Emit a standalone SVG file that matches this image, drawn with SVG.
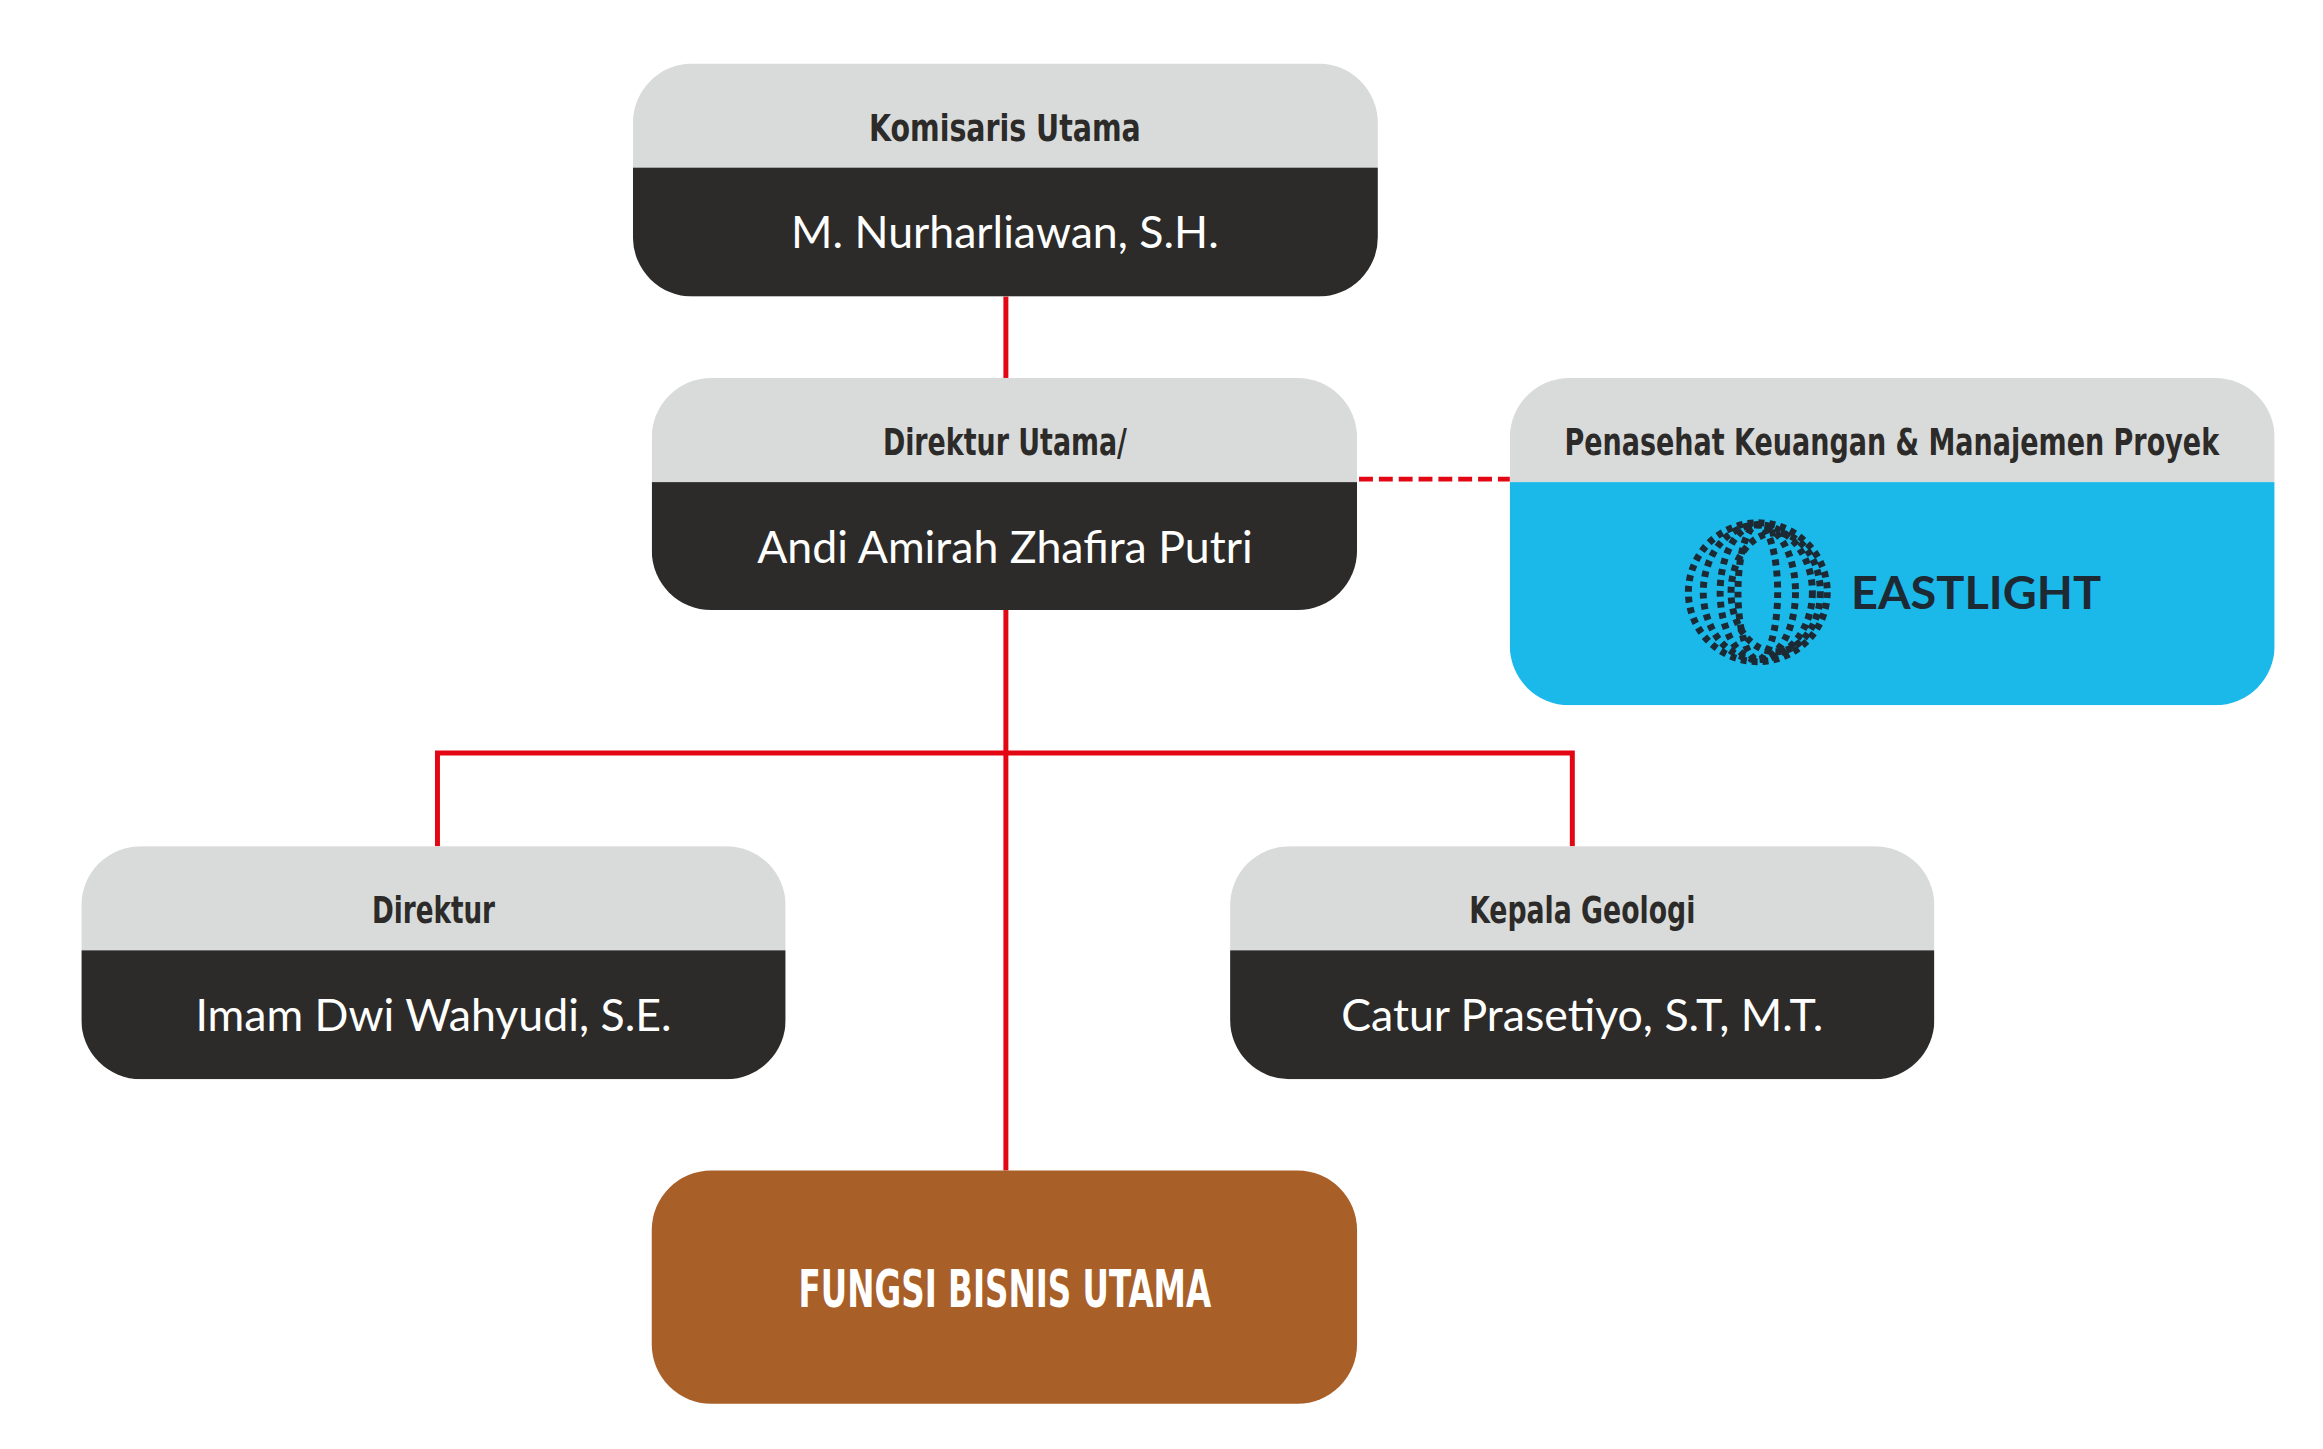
<svg xmlns="http://www.w3.org/2000/svg" width="2323" height="1449" viewBox="0 0 2323 1449">
<style>
.hd{fill:#d9dbda}.bd{fill:#2c2b29}
.ht{font-family:"DejaVu Sans Condensed","DejaVu Sans",sans-serif;font-weight:bold;font-size:38px;fill:#2c2b29;text-anchor:middle}
.nt{font-family:Lato,"Open Sans",sans-serif;font-size:45px;fill:#fff;text-anchor:middle}
.ln{stroke:#e30613;stroke-width:5;fill:none}
</style>
<defs>
<clipPath id="c1"><rect x="638" y="64" width="751" height="235" rx="60"/></clipPath>
<clipPath id="c2"><rect x="657" y="381" width="711" height="234" rx="60"/></clipPath>
<clipPath id="c3"><rect x="1522" y="381" width="771" height="330" rx="60"/></clipPath>
<clipPath id="c4"><rect x="82" y="853" width="710" height="235" rx="60"/></clipPath>
<clipPath id="c5"><rect x="1240" y="853" width="710" height="235" rx="60"/></clipPath>
</defs>
<g transform="scale(0.992)">
<g id="connectors">
<line class="ln" x1="1014" y1="299" x2="1014" y2="381"/>
<line class="ln" x1="1014" y1="615" x2="1014" y2="1180"/>
<polyline class="ln" points="441,853 441,759 1585,759 1585,853"/>
<line class="ln" x1="1370" y1="483" x2="1522" y2="483" stroke-dasharray="14,6"/>
</g>
<g id="komisaris" clip-path="url(#c1)">
<rect class="hd" x="638" y="64" width="751" height="105"/><rect class="bd" x="638" y="169" width="751" height="130"/>
<text class="ht" x="1013" y="142" textLength="274" lengthAdjust="spacingAndGlyphs">Komisaris Utama</text>
<text class="nt" x="1013" y="250">M. Nurharliawan, S.H.</text>
</g>
<g id="dirut" clip-path="url(#c2)">
<rect class="hd" x="657" y="381" width="711" height="105"/><rect class="bd" x="657" y="486" width="711" height="129"/>
<text class="ht" x="1013" y="459" textLength="246" lengthAdjust="spacingAndGlyphs">Direktur Utama/</text>
<text class="nt" x="1013" y="568">Andi Amirah Zhafira Putri</text>
</g>
<g id="penasehat" clip-path="url(#c3)">
<rect class="hd" x="1522" y="381" width="771" height="105"/><rect fill="#1bb8ea" x="1522" y="486" width="771" height="225"/>
<text class="ht" x="1907" y="459" textLength="660" lengthAdjust="spacingAndGlyphs">Penasehat Keuangan &amp; Manajemen Proyek</text>
<g fill="none" stroke="#1d2a33" stroke-width="7" stroke-dasharray="6,5">
<ellipse cx="1772" cy="597" rx="70" ry="70"/>
<ellipse cx="1772" cy="597" rx="55" ry="68"/>
<ellipse cx="1772" cy="597" rx="38" ry="68"/>
<ellipse cx="1772" cy="597" rx="20" ry="68"/>
<ellipse cx="1790" cy="597" rx="45" ry="60"/>
</g>
<text x="1866" y="614" font-family="Lato,'DejaVu Sans',sans-serif" font-weight="bold" font-size="46" fill="#1d2a33" textLength="252" lengthAdjust="spacingAndGlyphs">EASTLIGHT</text>
</g>
<g id="direktur" clip-path="url(#c4)">
<rect class="hd" x="82" y="853" width="710" height="105"/><rect class="bd" x="82" y="958" width="710" height="130"/>
<text class="ht" x="437" y="930" textLength="124" lengthAdjust="spacingAndGlyphs">Direktur</text>
<text class="nt" x="437" y="1039">Imam Dwi Wahyudi, S.E.</text>
</g>
<g id="geologi" clip-path="url(#c5)">
<rect class="hd" x="1240" y="853" width="710" height="105"/><rect class="bd" x="1240" y="958" width="710" height="130"/>
<text class="ht" x="1595" y="930" textLength="228" lengthAdjust="spacingAndGlyphs">Kepala Geologi</text>
<text class="nt" x="1595" y="1039">Catur Prasetiyo, S.T, M.T.</text>
</g>
<g id="fungsi">
<rect x="657" y="1180" width="711" height="235" rx="60" fill="#a95f28"/>
<text x="1013" y="1318" font-family="'DejaVu Sans Condensed','DejaVu Sans',sans-serif" font-weight="bold" font-size="52" fill="#fff" text-anchor="middle" textLength="416" lengthAdjust="spacingAndGlyphs">FUNGSI BISNIS UTAMA</text>
</g>
</g>
</svg>
